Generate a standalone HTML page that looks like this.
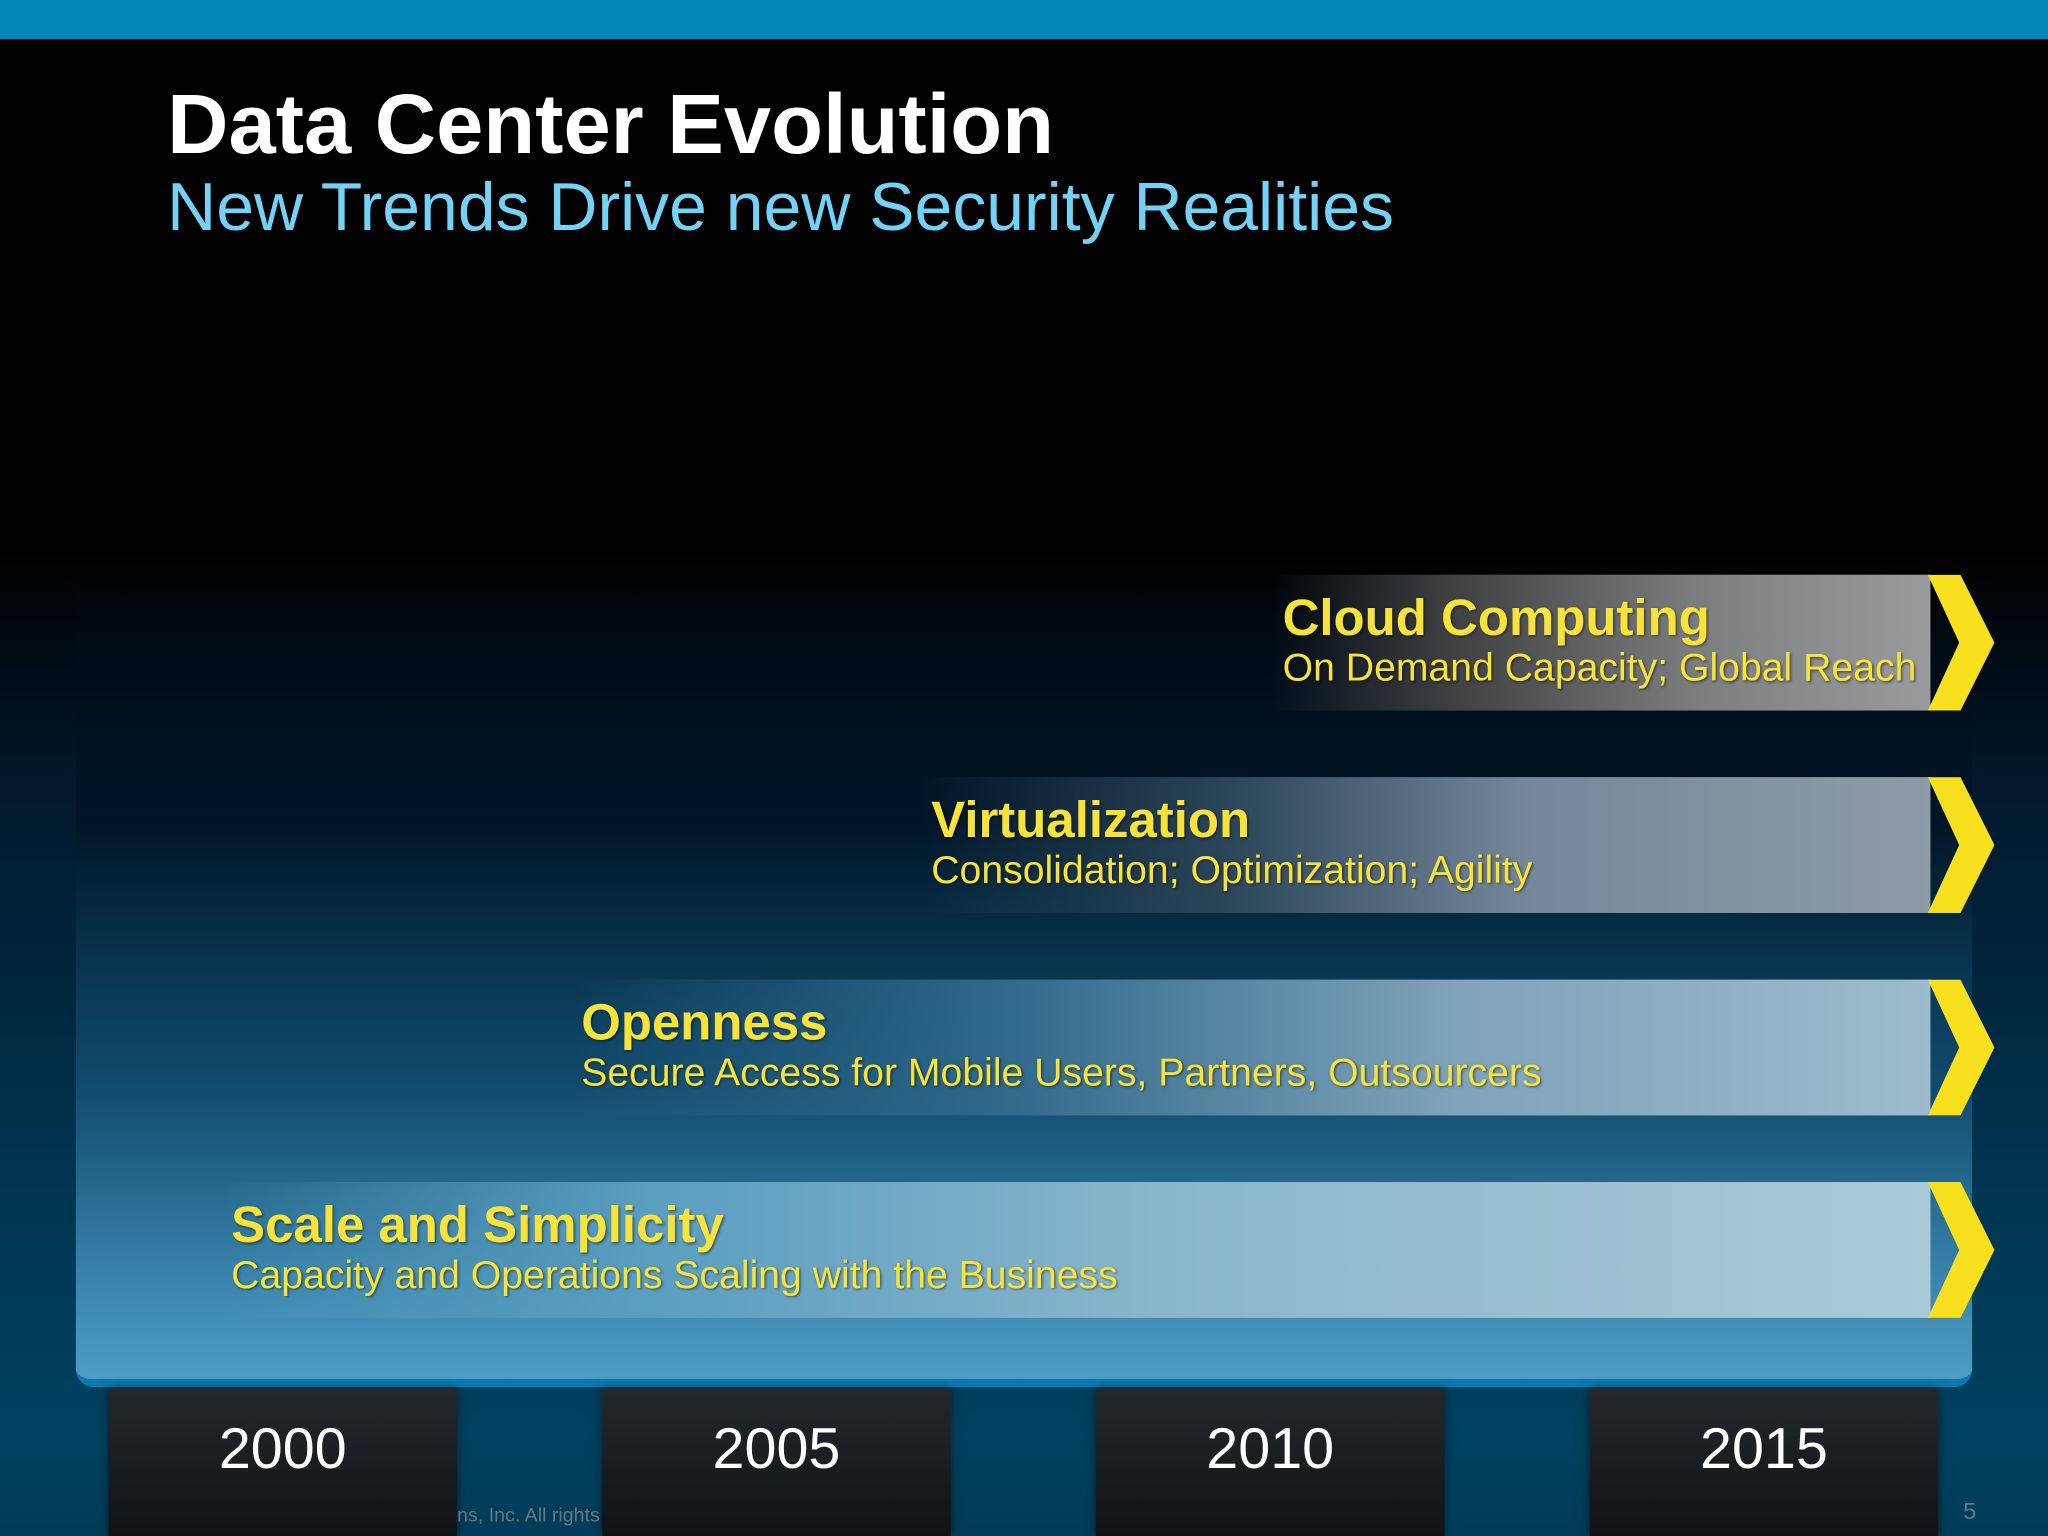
<!DOCTYPE html>
<html><head><meta charset="utf-8"><style>
html,body{margin:0;padding:0;width:2048px;height:1536px;overflow:hidden;background:#000}
#s{position:absolute;left:0;top:0;width:1568px;height:1176px;transform:scale(1.306122);transform-origin:0 0;
background:linear-gradient(#000 0,#000 420px,#01182a 600px,#013450 900px,#004260 1100px,#003c58 1176px);font-family:"Liberation Sans",sans-serif;overflow:hidden}
.a{position:absolute}
#topbar{left:0;top:0;width:1568px;height:30px;background:#0285b8}
#title{left:128px;top:57px;font-size:65px;font-weight:bold;color:#fff;white-space:nowrap}
#sub{left:128px;top:129px;font-size:52px;color:#74d2f6;white-space:nowrap}
#panel{left:58px;top:430px;width:1452px;height:626px;border-bottom:6px solid #0a7ab2;border-radius:0 0 14px 14px;
background:linear-gradient(rgba(0,0,0,0) 0,rgba(0,15,30,0.5) 200px,#104a6c 400px,#3c88b0 560px,#4e9cc3 626px)}
.bar{position:absolute;height:104px}
.bar .fill{position:absolute;left:0;top:0;bottom:0;right:50px}
.bar .t{position:absolute;left:7px;top:12px;font-size:39px;font-weight:bold;color:#f7e33a;white-space:nowrap;text-shadow:1px 1px 2px rgba(0,0,0,.5)}
.bar .d{position:absolute;left:7px;top:55px;font-size:30px;color:#f7e33a;white-space:nowrap;text-shadow:1px 1px 2px rgba(0,0,0,.5)}
.bar svg{position:absolute;right:0;top:0}
.yr{position:absolute;top:1063px;width:267px;height:113px;background:linear-gradient(#24282c,#101215);color:#fff;font-size:44px;text-align:center;line-height:94px;box-shadow:0 0 8px rgba(0,0,0,.5)}
</style></head><body>
<div id="s">
<div class="a" id="topbar"></div>
<div class="a" id="title">Data Center Evolution</div>
<div class="a" id="sub">New Trends Drive new Security Realities</div>
<div class="a" id="panel"></div>

<div class="bar" style="left:975px;top:440px;width:553px">
<div class="fill" style="background:linear-gradient(90deg,rgba(40,40,40,0),#3a3c3e 25%,#7c7e80 65%,#9a9b9c)"></div>
<svg width="54" height="104" viewBox="0 0 54 104"><polygon points="2,0 27,0 53,52 27,104 2,104 26,52" fill="#f8e01e"/></svg>
<div class="t">Cloud Computing</div>
<div class="d">On Demand Capacity; Global Reach</div></div>

<div class="bar" style="left:706px;top:595px;width:822px">
<div class="fill" style="background:linear-gradient(90deg,rgba(20,40,55,0),#2a4558 30%,#75889a 60%,#8d9ba6)"></div>
<svg width="54" height="104" viewBox="0 0 54 104"><polygon points="2,0 27,0 53,52 27,104 2,104 26,52" fill="#f8e01e"/></svg>
<div class="t">Virtualization</div>
<div class="d">Consolidation; Optimization; Agility</div></div>

<div class="bar" style="left:438px;top:750px;width:1090px">
<div class="fill" style="background:linear-gradient(90deg,rgba(20,80,110,0),#2c6688 30%,#7fa3ba 65%,#9dbbcc)"></div>
<svg width="54" height="104" viewBox="0 0 54 104"><polygon points="2,0 27,0 53,52 27,104 2,104 26,52" fill="#f8e01e"/></svg>
<div class="t">Openness</div>
<div class="d">Secure Access for Mobile Users, Partners, Outsourcers</div></div>

<div class="bar" style="left:170px;top:905px;width:1358px">
<div class="fill" style="background:linear-gradient(90deg,rgba(60,130,170,0),#5a9ec0 25%,#8ab6cb 55%,#aac9d6)"></div>
<svg width="54" height="104" viewBox="0 0 54 104"><polygon points="2,0 27,0 53,52 27,104 2,104 26,52" fill="#f8e01e"/></svg>
<div class="t">Scale and Simplicity</div>
<div class="d">Capacity and Operations Scaling with the Business</div></div>

<div class="yr" style="left:83px">2000</div>
<div class="yr" style="left:461px">2005</div>
<div class="yr" style="left:839px">2010</div>
<div class="yr" style="left:1217px">2015</div>
<div class="a" style="left:350px;top:1152px;font-size:15px;color:#6b7680;width:111px;overflow:hidden;white-space:nowrap">ns, Inc. All rights</div>
<div class="a" style="left:1503px;top:1147px;font-size:18px;color:#5a7a8c">5</div>
</div>
</body></html>
